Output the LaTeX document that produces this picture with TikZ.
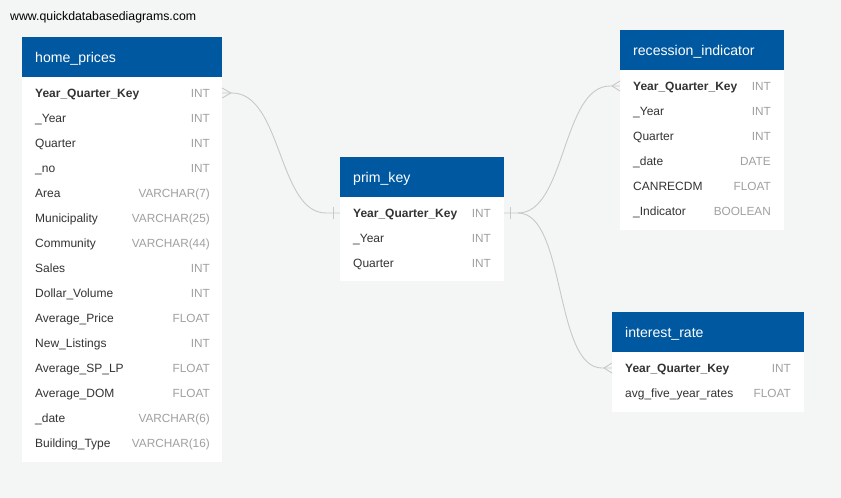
\documentclass[tikz,border=0pt]{standalone}
\usepackage{fontspec}
\setmainfont{Liberation Sans}
\usetikzlibrary{calc}
\definecolor{bgc}{HTML}{F4F5F5}
\definecolor{hdrc}{HTML}{0059A0}
\definecolor{fldc}{HTML}{333333}
\definecolor{typc}{HTML}{A0A0A0}
\definecolor{connc}{HTML}{C8C8C8}
\begin{document}
\begin{tikzpicture}[x=1pt,y=-1pt,
  hdrbox/.style={fill=hdrc,draw=none,minimum height=40pt,anchor=north west,inner sep=0pt},
  bodybox/.style={fill=white,draw=none,anchor=north west,inner sep=0pt},
  ttl/.style={anchor=base west,inner sep=0pt,text=white,font=\fontsize{14.1}{16}\selectfont},
  keyf/.style={anchor=base west,inner sep=0pt,text=fldc,font=\fontsize{12}{14}\selectfont\bfseries},
  fname/.style={anchor=base west,inner sep=0pt,text=fldc,font=\fontsize{12}{14}\selectfont},
  ftype/.style={anchor=base east,inner sep=0pt,text=typc,font=\fontsize{11.8}{14}\selectfont},
  conn/.style={draw=connc,line width=0.9pt}
]
\useasboundingbox (0,0) rectangle (841,498);
\fill[bgc] (0,0) rectangle (841,498);
\node[anchor=base west,inner sep=0pt,text=black,font=\fontsize{12.3}{14}\selectfont] (wm) at (10,20.4) {www.quickdatabasediagrams.com};

% home_prices
\node[hdrbox,minimum width=200pt] (hph) at (22,37) {};
\node[bodybox,minimum width=200pt,minimum height=385pt] (hpb) at (22,77) {};
\node[ttl] (hpt) at (35,62.1) {home\_prices};
\node[keyf] (hp1) at (35,97.3) {Year\_Quarter\_Key}; \node[ftype] (hp1t) at (210,97.3) {INT};
\node[fname] (hp2) at (35,122.3) {\_Year}; \node[ftype] (hp2t) at (210,122.3) {INT};
\node[fname] (hp3) at (35,147.3) {Quarter}; \node[ftype] (hp3t) at (210,147.3) {INT};
\node[fname] (hp4) at (35,172.3) {\_no}; \node[ftype] (hp4t) at (210,172.3) {INT};
\node[fname] (hp5) at (35,197.3) {Area}; \node[ftype] (hp5t) at (210,197.3) {VARCHAR(7)};
\node[fname] (hp6) at (35,222.3) {Municipality}; \node[ftype] (hp6t) at (210,222.3) {VARCHAR(25)};
\node[fname] (hp7) at (35,247.3) {Community}; \node[ftype] (hp7t) at (210,247.3) {VARCHAR(44)};
\node[fname] (hp8) at (35,272.3) {Sales}; \node[ftype] (hp8t) at (210,272.3) {INT};
\node[fname] (hp9) at (35,297.3) {Dollar\_Volume}; \node[ftype] (hp9t) at (210,297.3) {INT};
\node[fname] (hp10) at (35,322.3) {Average\_Price}; \node[ftype] (hp10t) at (210,322.3) {FLOAT};
\node[fname] (hp11) at (35,347.3) {New\_Listings}; \node[ftype] (hp11t) at (210,347.3) {INT};
\node[fname] (hp12) at (35,372.3) {Average\_SP\_LP}; \node[ftype] (hp12t) at (210,372.3) {FLOAT};
\node[fname] (hp13) at (35,397.3) {Average\_DOM}; \node[ftype] (hp13t) at (210,397.3) {FLOAT};
\node[fname] (hp14) at (35,422.3) {\_date}; \node[ftype] (hp14t) at (210,422.3) {VARCHAR(6)};
\node[fname] (hp15) at (35,447.3) {Building\_Type}; \node[ftype] (hp15t) at (210,447.3) {VARCHAR(16)};

% prim_key
\node[hdrbox,minimum width=164pt] (pkh) at (340,157) {};
\node[bodybox,minimum width=164pt,minimum height=84pt] (pkb) at (340,197) {};
\node[ttl] (pkt) at (353,182.1) {prim\_key};
\node[keyf] (pk1) at (353,217.3) {Year\_Quarter\_Key}; \node[ftype] (pk1t) at (491,217.3) {INT};
\node[fname] (pk2) at (353,242.3) {\_Year}; \node[ftype] (pk2t) at (491,242.3) {INT};
\node[fname] (pk3) at (353,267.3) {Quarter}; \node[ftype] (pk3t) at (491,267.3) {INT};

% recession_indicator
\node[hdrbox,minimum width=164pt] (rih) at (620,30) {};
\node[bodybox,minimum width=164pt,minimum height=160pt] (rib) at (620,70) {};
\node[ttl] (rit) at (633,55.1) {recession\_indicator};
\node[keyf] (ri1) at (633,90.3) {Year\_Quarter\_Key}; \node[ftype] (ri1t) at (771,90.3) {INT};
\node[fname] (ri2) at (633,115.3) {\_Year}; \node[ftype] (ri2t) at (771,115.3) {INT};
\node[fname] (ri3) at (633,140.3) {Quarter}; \node[ftype] (ri3t) at (771,140.3) {INT};
\node[fname] (ri4) at (633,165.3) {\_date}; \node[ftype] (ri4t) at (771,165.3) {DATE};
\node[fname] (ri5) at (633,190.3) {CANRECDM}; \node[ftype] (ri5t) at (771,190.3) {FLOAT};
\node[fname] (ri6) at (633,215.3) {\_Indicator}; \node[ftype] (ri6t) at (771,215.3) {BOOLEAN};

% interest_rate
\node[hdrbox,minimum width=192pt] (irh) at (612,312) {};
\node[bodybox,minimum width=192pt,minimum height=60pt] (irb) at (612,352) {};
\node[ttl] (irt) at (625,337.1) {interest\_rate};
\node[keyf] (ir1) at (625,372.3) {Year\_Quarter\_Key}; \node[ftype] (ir1t) at (791,372.3) {INT};
\node[fname] (ir2) at (625,397.3) {avg\_five\_year\_rates}; \node[ftype] (ir2t) at (791,397.3) {FLOAT};

% connection points (row centre lines)
\coordinate (hpR) at (222,93);
\coordinate (pkL) at (340,213);
\coordinate (pkR) at (504,213);
\coordinate (riL) at (620,86);
\coordinate (irL) at (612,368);

% home_prices -> prim_key
\draw[conn] (hpR) -- ($(hpR)+(10,0)$) .. controls ($(hpR)+(60,0)$) and ($(pkL)+(-62,0)$) .. ($(pkL)+(-14,0)$) -- (pkL);
\draw[conn] ($(hpR)+(0,-5)$) -- ($(hpR)+(9,0)$) -- ($(hpR)+(0,5)$);
\draw[conn] ($(pkL)+(-7,-6)$) -- ($(pkL)+(-7,6)$);

% prim_key -> recession_indicator
\draw[conn] (pkR) -- ($(pkR)+(14,0)$) .. controls ($(pkR)+(62,0)$) and ($(riL)+(-58,0)$) .. ($(riL)+(-10,0)$) -- (riL);
\draw[conn] ($(riL)+(0,-5)$) -- ($(riL)+(-8,0)$) -- ($(riL)+(0,5)$);
\draw[conn] ($(pkR)+(6,-6)$) -- ($(pkR)+(6,6)$);

% prim_key -> interest_rate
\draw[conn] ($(pkR)+(14,0)$) .. controls ($(pkR)+(62,0)$) and ($(irL)+(-58,0)$) .. ($(irL)+(-10,0)$) -- (irL);
\draw[conn] ($(irL)+(0,-5)$) -- ($(irL)+(-8,0)$) -- ($(irL)+(0,5)$);
\end{tikzpicture}
\end{document}
